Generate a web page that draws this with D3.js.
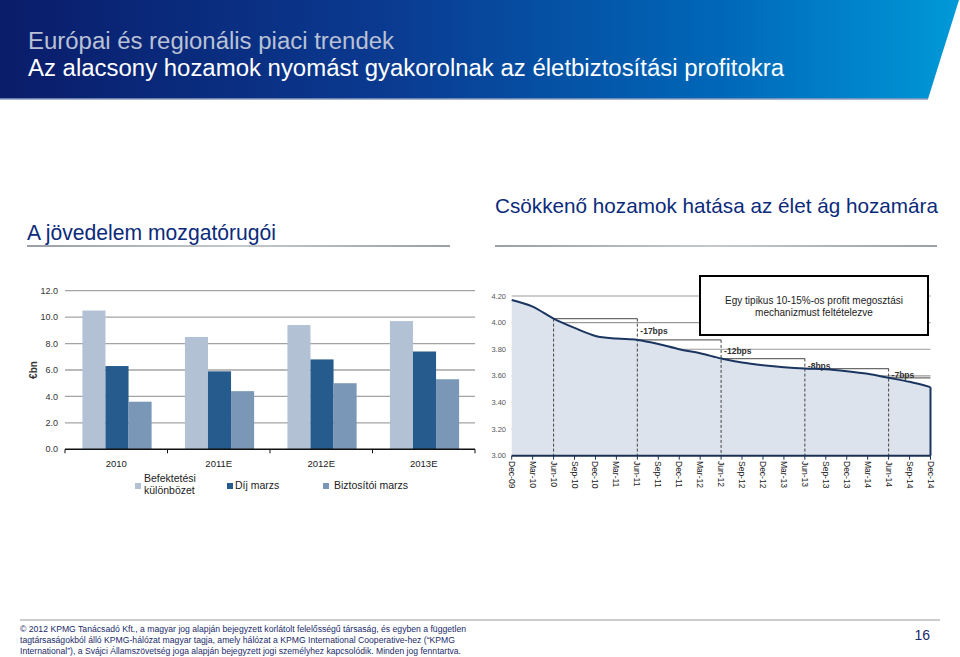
<!DOCTYPE html>
<html><head><meta charset="utf-8">
<script src="https://cdn.jsdelivr.net/npm/d3@7"></script>
<style>
html,body{margin:0;padding:0;background:#fff;}
svg{display:block;font-family:"Liberation Sans",Arial,sans-serif;}
.narrow{font-family:"Liberation Sans Narrow","Liberation Sans",Arial,sans-serif;}
</style></head>
<body>
<script>
// ---------- DATA ----------
const headerLine1 = "Európai és regionális piaci trendek";
const headerLine2 = "Az alacsony hozamok nyomást gyakorolnak az életbiztosítási profitokra";
const leftTitle = "A jövedelem mozgatórugói";
const rightTitle = "Csökkenő hozamok hatása az élet ág hozamára";

const years = ["2010", "2011E", "2012E", "2013E"];
const seriesNames = ["Befektetési különbözet", "Díj marzs", "Biztosítói marzs"];
const befektetesiKulonbozet = [10.5, 8.5, 9.4, 9.7];
const dijMarzs = [6.3, 5.9, 6.8, 7.4];
const biztositoiMarzs = [3.6, 4.4, 5.0, 5.3];
const leftTicks = [0, 2, 4, 6, 8, 10, 12];

const quarters = ["Dec-09","Mar-10","Jun-10","Sep-10","Dec-10","Mar-11","Jun-11","Sep-11","Dec-11",
  "Mar-12","Jun-12","Sep-12","Dec-12","Mar-13","Jun-13","Sep-13","Dec-13","Mar-14","Jun-14","Sep-14","Dec-14"];
const yields = [4.17, 4.12, 4.03, 3.96, 3.90, 3.88, 3.87, 3.84, 3.80, 3.77, 3.73, 3.70, 3.68,
  3.665, 3.655, 3.65, 3.635, 3.615, 3.585, 3.555, 3.515];
const rightTicks = [3.0, 3.2, 3.4, 3.6, 3.8, 4.0, 4.2];
const junQuarters = ["Jun-10", "Jun-11", "Jun-12", "Jun-13", "Jun-14"];
const bpsLabels = ["-17bps", "-12bps", "-8bps", "-7bps"];
const boxText = ["Egy tipikus 10-15%-os profit megosztási", "mechanizmust feltételezve"];

const footerLines = [
  "© 2012 KPMG Tanácsadó Kft., a magyar jog alapján bejegyzett korlátolt felelősségű társaság, és egyben a független",
  "tagtársaságokból álló KPMG-hálózat magyar tagja, amely hálózat a KPMG International Cooperative-hez (“KPMG",
  "International”), a Svájci Államszövetség joga alapján bejegyzett jogi személyhez kapcsolódik. Minden jog fenntartva."
];
const pageNumber = "16";

// ---------- SVG ----------
const W = 960, H = 657;
const svg = d3.select("body").append("svg").attr("width", W).attr("height", H);
const defs = svg.append("defs");

// Header
const hg = defs.append("linearGradient").attr("id", "hdr").attr("x1", "0%").attr("x2", "100%");
hg.append("stop").attr("offset", "0%").attr("stop-color", "#0a1c6a");
hg.append("stop").attr("offset", "40%").attr("stop-color", "#0a3a90");
hg.append("stop").attr("offset", "75%").attr("stop-color", "#0067b8");
hg.append("stop").attr("offset", "100%").attr("stop-color", "#0099d8");
svg.append("path").attr("d", "M0,0 L959,0 L928,99 L0,99 Z").attr("fill", "url(#hdr)");
svg.append("line").attr("x1", 0).attr("x2", 928).attr("y1", 99).attr("y2", 99)
  .attr("stroke", "#8a9cc0").attr("stroke-width", 1.5);
svg.append("text").attr("class", "narrow").attr("x", 28).attr("y", 49).attr("font-size", 23).attr("fill", "#b9c1d6")
  .attr("textLength", 366).attr("lengthAdjust", "spacingAndGlyphs").text(headerLine1);
svg.append("text").attr("class", "narrow").attr("x", 28).attr("y", 76).attr("font-size", 23).attr("fill", "#ffffff")
  .attr("textLength", 756).attr("lengthAdjust", "spacingAndGlyphs").text(headerLine2);

// Section titles
svg.append("text").attr("x", 27).attr("y", 240).attr("font-size", 21.5).attr("fill", "#0b2b7a")
  .attr("textLength", 249).attr("lengthAdjust", "spacingAndGlyphs").text(leftTitle);
svg.append("text").attr("x", 495).attr("y", 213).attr("font-size", 21).attr("fill", "#0b2b7a")
  .attr("textLength", 443).attr("lengthAdjust", "spacingAndGlyphs").text(rightTitle);
const ug = defs.append("linearGradient").attr("id", "ul").attr("x1", "0%").attr("x2", "100%");
ug.append("stop").attr("offset", "0%").attr("stop-color", "#9a9fa8");
ug.append("stop").attr("offset", "50%").attr("stop-color", "#c4c8ce");
ug.append("stop").attr("offset", "100%").attr("stop-color", "#9a9fa8");
svg.append("rect").attr("x", 27).attr("y", 245).attr("width", 423).attr("height", 2).attr("fill", "url(#ul)");
svg.append("rect").attr("x", 495).attr("y", 245).attr("width", 442).attr("height", 2).attr("fill", "url(#ul)");

// ---------- LEFT BAR CHART ----------
const barColors = ["#b2c2d4", "#255c8d", "#7a97b7"];
const seriesData = [befektetesiKulonbozet, dijMarzs, biztositoiMarzs];
const yL = d3.scaleLinear().domain([0, 12]).range([449.3, 290.7]);
const x0 = d3.scaleBand().domain(years).range([65, 475]);
const x1 = d3.scaleBand().domain(d3.range(seriesNames.length))
  .range([x0.bandwidth() * 0.17, x0.bandwidth() * 0.845]);

const gL = svg.append("g");
gL.selectAll("line.grid").data(leftTicks.filter(t => t > 0)).join("line")
  .attr("x1", 65).attr("x2", 475).attr("y1", d => yL(d)).attr("y2", d => yL(d))
  .attr("stroke", "#a3a3a3").attr("stroke-width", 1.3);
gL.selectAll("text.yt").data(leftTicks).join("text")
  .attr("x", 58).attr("y", d => yL(d)).attr("dy", "0.35em").attr("text-anchor", "end")
  .attr("font-size", 9).attr("fill", "#333").text(d => d.toFixed(1));
gL.append("text").attr("transform", "translate(37,370) rotate(-90)").attr("text-anchor", "middle")
  .attr("font-size", 10).attr("font-weight", "bold").attr("fill", "#333").text("€bn");

years.forEach((yr, i) => {
  const g = gL.append("g").attr("transform", `translate(${x0(yr)},0)`);
  g.selectAll("rect").data(seriesData.map((s, k) => ({k, v: s[i]}))).join("rect")
    .attr("x", d => x1(d.k)).attr("width", x1.bandwidth())
    .attr("y", d => yL(d.v)).attr("height", d => yL(0) - yL(d.v))
    .attr("fill", d => barColors[d.k]);
});
gL.append("line").attr("x1", 65).attr("x2", 475).attr("y1", yL(0)).attr("y2", yL(0))
  .attr("stroke", "#111").attr("stroke-width", 1.6);
gL.selectAll("line.xt").data(years.map(y => x0(y)).concat([475])).join("line")
  .attr("x1", d => d).attr("x2", d => d).attr("y1", yL(0)).attr("y2", yL(0) + 4)
  .attr("stroke", "#111").attr("stroke-width", 1);
gL.selectAll("text.xl").data(years).join("text")
  .attr("x", d => x0(d) + x0.bandwidth() / 2).attr("y", 467).attr("text-anchor", "middle")
  .attr("font-size", 9.5).attr("fill", "#222").text(d => d);

// legend
const legX = [135, 227, 323];
legX.forEach((lx, k) => {
  gL.append("rect").attr("x", lx).attr("y", 483).attr("width", 6).attr("height", 6).attr("fill", barColors[k]);
});
gL.append("text").attr("x", 144).attr("y", 482).attr("font-size", 10.5).attr("fill", "#222").text("Befektetési");
gL.append("text").attr("x", 144).attr("y", 494).attr("font-size", 10.5).attr("fill", "#222").text("különbözet");
gL.append("text").attr("x", 235).attr("y", 489).attr("font-size", 10.5).attr("fill", "#222").text(seriesNames[1]);
gL.append("text").attr("x", 334).attr("y", 489).attr("font-size", 10.5).attr("fill", "#222").text(seriesNames[2]);

// ---------- RIGHT AREA CHART ----------
const xR = d3.scalePoint().domain(quarters).range([511.7, 930.5]);
const yR = d3.scaleLinear().domain([3.0, 4.2]).range([455.7, 296]);
const gR = svg.append("g");
gR.selectAll("line.grid").data(rightTicks.filter(t => t > 3)).join("line")
  .attr("x1", 511.7).attr("x2", 930.5).attr("y1", d => yR(d)).attr("y2", d => yR(d))
  .attr("stroke", "#9a9a9a").attr("stroke-width", 1.2);
gR.selectAll("text.yt").data(rightTicks).join("text")
  .attr("x", 506).attr("y", d => yR(d)).attr("dy", "0.35em").attr("text-anchor", "end")
  .attr("font-size", 7.5).attr("fill", "#555").text(d => d.toFixed(2));

const pts = quarters.map((q, i) => ({q, v: yields[i]}));
const area = d3.area().x(d => xR(d.q)).y0(yR(3.0)).y1(d => yR(d.v)).curve(d3.curveMonotoneX);
gR.append("path").datum(pts).attr("d", area).attr("fill", "#dce3ec");

// brackets
const levels = junQuarters.map(q => yields[quarters.indexOf(q)]);
junQuarters.forEach((q, i) => {
  const xEnd = i < junQuarters.length - 1 ? xR(junQuarters[i + 1]) : xR(quarters[quarters.length - 1]);
  gR.append("line").attr("x1", xR(q)).attr("x2", xEnd).attr("y1", yR(levels[i])).attr("y2", yR(levels[i]))
    .attr("stroke", "#6b6b6b").attr("stroke-width", 1.2);
  const top = i === 0 ? levels[0] : levels[i - 1];
  gR.append("line").attr("x1", xR(q)).attr("x2", xR(q)).attr("y1", yR(top)).attr("y2", yR(3.0))
    .attr("stroke", "#444").attr("stroke-width", 1).attr("stroke-dasharray", "3,2");
});
bpsLabels.forEach((lab, i) => {
  gR.append("text").attr("x", xR(junQuarters[i + 1]) + 3)
    .attr("y", (yR(levels[i]) + yR(levels[i + 1])) / 2 + 2).attr("dy", "0.35em")
    .attr("font-size", 8.5).attr("font-weight", "bold").attr("fill", "#333").text(lab);
});

const line = d3.line().x(d => xR(d.q)).y(d => yR(d.v)).curve(d3.curveMonotoneX);
gR.append("path").datum(pts).attr("d", line).attr("fill", "none")
  .attr("stroke", "#1b3561").attr("stroke-width", 2);
gR.append("line").attr("x1", xR(quarters[20])).attr("x2", xR(quarters[20]))
  .attr("y1", yR(yields[20])).attr("y2", yR(3.0)).attr("stroke", "#1b3561").attr("stroke-width", 2);

// x axis
gR.append("line").attr("x1", 511.7).attr("x2", 930.5).attr("y1", yR(3.0)).attr("y2", yR(3.0))
  .attr("stroke", "#1b2f55").attr("stroke-width", 2);
gR.selectAll("line.xt").data(quarters).join("line")
  .attr("x1", d => xR(d)).attr("x2", d => xR(d)).attr("y1", yR(3.0)).attr("y2", yR(3.0) + 4)
  .attr("stroke", "#1b2f55").attr("stroke-width", 1);
gR.selectAll("text.xl").data(quarters).join("text")
  .attr("transform", d => `translate(${xR(d)},461) rotate(90)`).attr("dy", "0.35em")
  .attr("font-size", 8.5).attr("fill", "#222").text(d => d);

// box
gR.append("rect").attr("x", 700).attr("y", 276).attr("width", 228).attr("height", 59)
  .attr("fill", "#fff").attr("stroke", "#000").attr("stroke-width", 2);
boxText.forEach((t, i) => {
  gR.append("text").attr("x", 814).attr("y", 304 + i * 12).attr("text-anchor", "middle")
    .attr("font-size", 10).attr("fill", "#222").text(t);
});

// ---------- FOOTER ----------
svg.append("line").attr("x1", 20).attr("x2", 940).attr("y1", 620).attr("y2", 620)
  .attr("stroke", "#9a9a9a").attr("stroke-width", 1);
const fw = [446, 435, 441];
footerLines.forEach((t, i) => {
  svg.append("text").attr("x", 20).attr("y", 632 + i * 11).attr("font-size", 8.5).attr("fill", "#1a2a6a")
    .attr("textLength", fw[i]).attr("lengthAdjust", "spacingAndGlyphs").text(t);
});
svg.append("text").attr("x", 930).attr("y", 640).attr("text-anchor", "end").attr("font-size", 14)
  .attr("fill", "#1a2a6a").text(pageNumber);
</script>
</body></html>
